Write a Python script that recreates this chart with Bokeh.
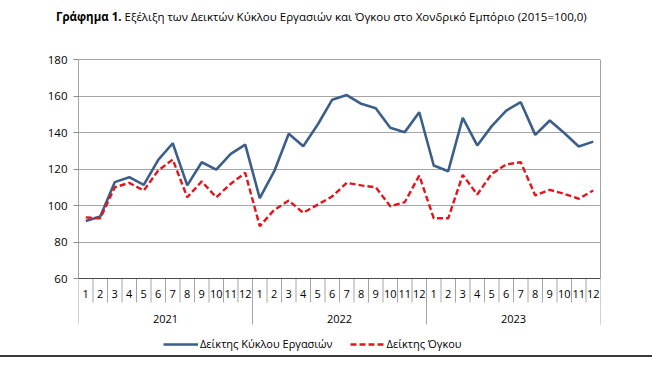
from bokeh.plotting import figure
from bokeh.models import Range1d, FixedTicker, Legend, LegendItem, Div
from bokeh.layouts import column
from bokeh.embed import file_html
from bokeh.resources import INLINE
from bokeh.core.properties import value

# ---------------- data ----------------
years = ["2021", "2022", "2023"]
months = [str(m) for m in range(1, 13)]
turnover = [91.5, 94.0, 112.8, 115.5, 111.3, 125.0, 134.1, 111.0, 123.7, 119.7, 128.3, 133.4,
            104.0, 118.8, 139.3, 132.5, 144.4, 158.0, 160.5, 155.7, 153.3, 142.6, 140.2, 151.1,
            121.9, 118.8, 148.0, 132.9, 143.5, 152.0, 156.6, 138.7, 146.6, 139.7, 132.3, 135.0]
volume = [93.5, 93.0, 110.0, 112.4, 108.2, 119.2, 125.2, 104.5, 113.2, 104.5, 111.9, 117.9,
          88.7, 97.6, 102.7, 96.0, 100.5, 105.0, 112.4, 111.0, 110.0, 99.6, 101.8, 116.4,
          93.0, 93.0, 116.8, 106.0, 117.4, 122.5, 123.7, 105.5, 108.6, 106.4, 103.7, 108.2]
y_ticks = [60, 80, 100, 120, 140, 160, 180]
series_names = ["Δείκτης Κύκλου Εργασιών", "Δείκτης Όγκου"]
title_bold = "Γράφημα 1."
title_rest = "Εξέλιξη των Δεικτών Κύκλου Εργασιών και Όγκου στο Χονδρικό Εμπόριο (2015=100,0)"

# ---------------- layout constants ----------------
FONT = "Open Sans"
W = 652
TITLE_H = 30
H = 355 - TITLE_H
ML, MR, MT = 78, 52, 59 - TITLE_H
frame_h = H - MT
y_top, y_min = y_ticks[-1], y_ticks[0]
px_per_unit = 219.0 / (y_top - y_min)


def yv(px_below_top):
    """value at a given pixel distance below frame top"""
    return y_top - px_below_top / px_per_unit


y_lo = yv(frame_h)
month_sep_bottom = yv(243)
year_sep_bottom = yv(265)
month_label_y = yv(234)
year_label_y = yv(259)

n_months = len(months)
n_total = n_months * len(years)
x = list(range(1, n_total + 1))

p = figure(width=W, height=H, output_backend="svg", toolbar_location=None,
           x_range=Range1d(0.5, n_total + 0.5), y_range=Range1d(y_lo, y_top),
           x_axis_location=None, min_border_left=ML, min_border_right=MR,
           min_border_top=MT, min_border_bottom=0, margin=0)
p.outline_line_color = None
p.background_fill_color = "white"
p.xgrid.visible = False
p.ygrid.ticker = FixedTicker(ticks=y_ticks)
p.ygrid.grid_line_color = "#a6a6a6"
p.ygrid.grid_line_width = 1

ax = p.yaxis[0]
ax.ticker = FixedTicker(ticks=y_ticks)
ax.axis_line_color = None
ax.major_tick_out = 5
ax.major_tick_in = 0
ax.major_tick_line_color = "#8c8c8c"
ax.minor_tick_line_color = None
ax.major_label_standoff = 6
ax.major_label_text_font = FONT
ax.major_label_text_font_size = "11.5px"
ax.major_label_text_color = "#000000"

# category separators
month_x = [i + 0.5 for i in range(1, n_total) if i % n_months != 0]
year_x = [i * n_months + 0.5 for i in range(len(years) + 1)]
p.segment(x0=month_x, y0=[y_min] * len(month_x), x1=month_x, y1=[month_sep_bottom] * len(month_x),
          line_color="#a6a6a6", line_width=1)
p.segment(x0=year_x, y0=[y_min] * len(year_x), x1=year_x, y1=[year_sep_bottom] * len(year_x),
          line_color="#a6a6a6", line_width=1)

# frame border
p.segment(x0=[0.5, 0.5, n_total + 0.5, 0.5], y0=[y_top, y_top, y_top, y_min],
          x1=[n_total + 0.5, 0.5, n_total + 0.5, n_total + 0.5], y1=[y_top, y_min, y_min, y_min],
          line_color="#4d4d4d", line_width=1)

# category labels
p.text(x=x, y=[month_label_y] * n_total, text=months * len(years),
       text_align="center", text_baseline="middle", text_font=value(FONT),
       text_font_size="11px", text_color="#000000")
p.text(x=[i * n_months + n_months / 2 + 0.5 for i in range(len(years))],
       y=[year_label_y] * len(years), text=years,
       text_align="center", text_baseline="middle", text_font=value(FONT),
       text_font_size="11px", text_color="#000000")

r1 = p.line(x, turnover, line_color="#3c5f8a", line_width=2.6)
r2 = p.line(x, volume, line_color="#e3141c", line_width=2.4, line_dash="6 3")

legend = Legend(items=[LegendItem(label=series_names[0], renderers=[r1]),
                       LegendItem(label=series_names[1], renderers=[r2])],
                location=(163 - ML, 4), orientation="horizontal", glyph_width=35, glyph_height=14,
                label_height=14, label_standoff=2, spacing=17, padding=0, margin=0,
                border_line_color=None, background_fill_alpha=0,
                label_text_font=FONT, label_text_font_size="11px", label_text_color="#000000")
p.add_layout(legend)

title = Div(text="<b>%s</b> %s" % (title_bold, title_rest), width=W, height=TITLE_H, margin=0,
            styles={"font-family": FONT, "font-size": "11.5px", "color": "#000000",
                    "padding-left": "56px", "padding-top": "9px", "white-space": "nowrap",
                    "line-height": "16px"})
rule = Div(width=W, height=2, margin=0, styles={"background-color": "#3a3a3a"})
layout = column(title, p, rule, spacing=0)

open("out.html", "w").write(file_html(layout, INLINE))
